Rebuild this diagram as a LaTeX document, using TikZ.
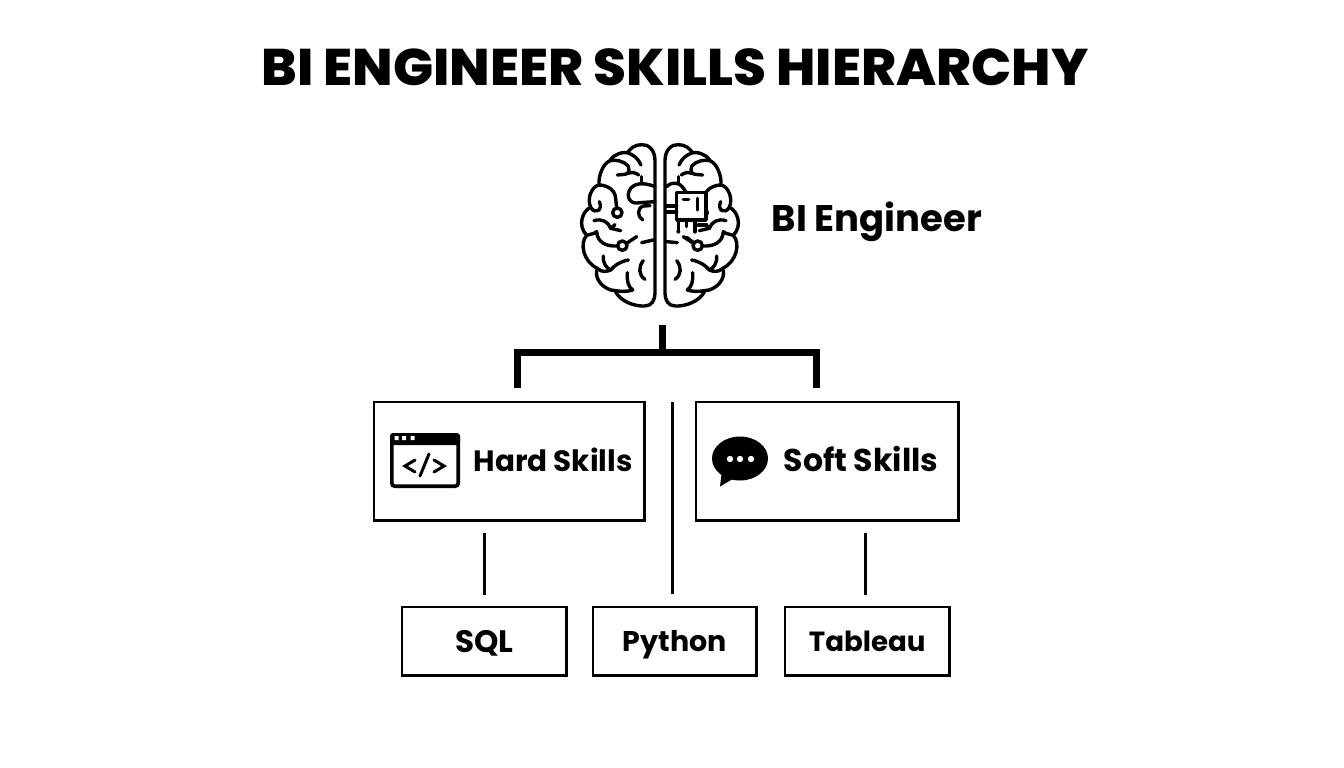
\documentclass[tikz,border=0pt]{standalone}
\usepackage{fontspec}
\setmainfont{Poppins}[BoldFont=Poppins Bold]
\newfontfamily\titlefont{Poppins ExtraBold}[FakeStretch=1.03]
\newcommand{\lblsize}[1]{\bfseries\fontsize{#1}{#1}\selectfont}
\tikzset{
  x=1pt,y=-1pt,
  box/.style={draw=black,line width=2.7pt,fill=white,inner sep=0pt},
  lbl/.style={inner sep=0pt,text=black,text depth=0pt},
  thin link/.style={line width=2.7pt,black},
  thick link/.style={line width=7pt,black},
  br/.style={line width=3.4pt,black,line cap=round,line join=round},
}
\newcommand{\brainside}{%
  \draw[br] (285,92) .. controls (285,60) and (265,42) .. (245,44) .. controls (225,44) and (210,55) .. (203,68)
     .. controls (190,65) and (160,72) .. (150,92) .. controls (130,100) and (115,135) .. (117,165)
     .. controls (95,170) and (80,205) .. (92,232) .. controls (70,240) and (50,285) .. (80,316)
     .. controls (58,340) and (70,395) .. (112,415) .. controls (100,445) and (130,480) .. (165,482)
     .. controls (180,515) and (225,530) .. (255,528) .. controls (275,528) and (285,510) .. (285,490) -- cycle;
  \draw[br] (203,68) .. controls (220,75) and (235,85) .. (243,105);
  \draw[br] (150,92) .. controls (165,88) and (190,92) .. (205,108);
  \draw[br] (245,140) -- (245,158);
  \draw[br] (205,110) .. controls (210,125) and (205,130) .. (195,133) -- (172,135);
  \draw[br] (205,130) .. controls (215,125) and (228,128) .. (236,135);
  \draw[br] (117,165) .. controls (135,165) and (165,175) .. (167,205) -- (170,234);
  \draw[br] (172,248) circle[radius=14];
  \draw[br] (92,232) .. controls (105,255) and (130,240) .. (118,215);
  \draw[br] (102,272) .. controls (125,265) and (145,275) .. (152,295) -- (182,302);
  \draw[br] (152,295) -- (165,284);
  \draw[br] (80,316) .. controls (95,312) and (105,310) .. (110,305) .. controls (112,335) and (135,350) .. (172,348);
  \draw[br] (187,347) circle[radius=14];
  \draw[br] (200,340) -- (230,320);
  \draw[br] (130,378) .. controls (128,400) and (140,415) .. (152,420) .. controls (165,405) and (180,395) .. (205,390);
  \draw[br] (112,415) .. controls (125,428) and (140,425) .. (152,420);
  \draw[br] (202,428) .. controls (200,455) and (205,470) .. (218,480) .. controls (205,485) and (185,485) .. (165,482);
  \draw[br] (250,392) .. controls (235,410) and (235,435) .. (255,448);
}
\begin{document}
\begin{tikzpicture}[x=1pt,y=-1pt]
\useasboundingbox (0,0) rectangle (1344,768);
\fill[white] (0,0) rectangle (1344,768);

\node[font=\titlefont\fontsize{51.5}{55}\selectfont,inner sep=0pt,text depth=0pt,text height=36pt] (title) at (675,67) {BI ENGINEER SKILLS HIERARCHY};

% brain
\begin{scope}[shift={(560,130)},x=0.3333pt,y=-0.3333pt]
  \brainside
  \draw[br] (285,170) .. controls (260,160) and (230,155) .. (212,175) .. controls (195,200) and (210,225) .. (240,218) -- (285,215);
  \draw[br] (270,227) -- (250,228) .. controls (230,235) and (232,260) .. (248,270);
  \draw[br] (245,338) -- (280,330);
  \begin{scope}[shift={(600,0)},x=-0.3333pt]
    \brainside
  \end{scope}
  \draw[br,fill=white] (350,187) rectangle (438,270);
  \draw[br] (320,228) -- (350,228);
  \draw[br] (320,246) -- (350,246);
  \draw[br] (320,170) .. controls (330,160) and (340,158) .. (350,160) .. controls (362,162) and (372,175) .. (378,187);
  \draw[br] (370,208) -- (386,208);
  \draw[br] (413,205) -- (413,240);
  \draw[br] (355,270) -- (355,302);
  \draw[br] (380,270) -- (380,290);
  \draw[br] (405,270) -- (405,302);
  \fill (355,305) circle[radius=6];
  \fill (405,305) circle[radius=6];
  \draw[br] (380,322) -- (403,340);
  \draw[br] (415,285) -- (440,285);
  \draw[br] (320,335) -- (352,338);
\end{scope}
\node[lbl,font=\lblsize{37},text height=26pt] (brainlabel) at (877,218) {BI Engineer};
\coordinate (brainfoot) at (662,325);
\coordinate (busmid) at (662,352);
\coordinate (busl) at (517,352);
\coordinate (busr) at (816,352);
\coordinate (dropl) at (517,388);
\coordinate (dropr) at (816,388);

% boxes
\node[box,minimum width=270.5pt,minimum height=118.5pt] (hard) at (509.25,461.25) {};
\node[box,minimum width=262.5pt,minimum height=118.5pt] (soft) at (827.25,461.25) {};
\node[box,lbl,font=\lblsize{31},text height=22pt,minimum width=164.5pt,minimum height=68.5pt] (sql) at (484.25,641.25) {SQL};
\node[box,lbl,font=\lblsize{28.5},text height=20pt,minimum width=163.5pt,minimum height=68.5pt] (python) at (674.75,641.25) {Python};
\node[box,lbl,font=\lblsize{27.7},text height=20pt,minimum width=164.5pt,minimum height=68.5pt] (tableau) at (867.25,641.25) {Tableau};
\node[lbl,font=\lblsize{29.4},text height=21pt] (hardlabel) at (553,461) {Hard Skills};
\node[lbl,font=\lblsize{31.5},text height=22pt] (softlabel) at (861,460) {Soft Skills};

% connectors
\draw[thick link] (brainfoot) -- (busmid);
\draw[thick link,line join=miter] (dropl) -- (busl) -- (busr) -- (dropr);
\coordinate (hl) at (484.5,533);
\coordinate (sl) at (865.5,533);
\coordinate (sqltop) at (484.5,595);
\coordinate (tabtop) at (865.5,595);
\coordinate (pytop) at (672.5,594);
\coordinate (pyup) at (672.5,402);
\draw[thin link] (hl) -- (sqltop);
\draw[thin link] (pyup) -- (pytop);
\draw[thin link] (sl) -- (tabtop);

% window icon
\draw[line width=3.6pt,rounded corners=3pt] (391.8,434.8) rectangle (458.2,486.2);
\fill[rounded corners=3pt] (390,433) -- (460,433) -- (460,445) -- (390,445) -- cycle;
\fill[white] (394.5,436) rectangle +(4,4) (402,436) rectangle +(4,4) (410.5,436) rectangle +(4,4);
\draw[line width=3pt,line cap=round,line join=miter] (415,460) -- (405,466) -- (415,472);
\draw[line width=3pt,line cap=round] (429,454) -- (420,476);
\draw[line width=3pt,line cap=round,line join=miter] (434,460) -- (444,466) -- (434,472);

% bubble icon
\fill (740,458.5) ellipse[x radius=28,y radius=22];
\fill (722,470) -- (720,486.5) -- (738,476) -- cycle;
\fill[white] (730,459) circle[radius=3.2] (740,459) circle[radius=3.2] (751,459) circle[radius=3.2];
\end{tikzpicture}
\end{document}
